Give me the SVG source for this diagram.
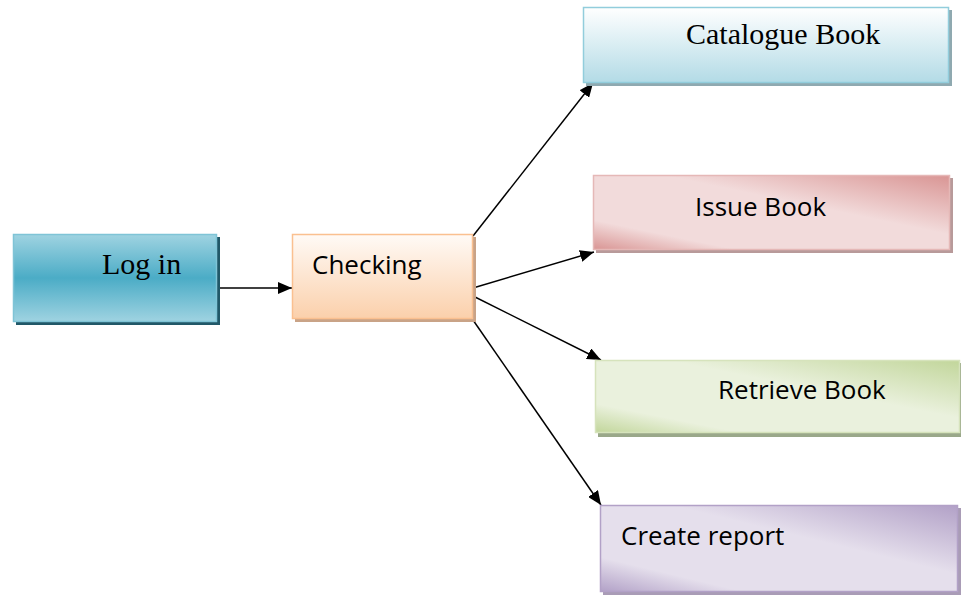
<svg xmlns="http://www.w3.org/2000/svg" width="961" height="595" viewBox="0 0 961 595">
<defs>
<style>
.serif{font-family:"Liberation Serif","Times New Roman",serif;font-size:30px;fill:#000}
.sans{font-family:"Open Sans","Liberation Sans",sans-serif;font-size:26px;fill:#000}
.conn{stroke:#000;stroke-width:1.5;fill:none;marker-end:url(#ah)}
</style>
<marker id="ah" markerWidth="14" markerHeight="12" refX="14" refY="6" orient="auto" markerUnits="userSpaceOnUse" viewBox="0 0 14 12">
<path d="M0,0 L14,6 L0,12 z" fill="#000"/>
</marker>
<linearGradient id="gLog" x1="0" y1="0" x2="0" y2="1">
<stop offset="0" stop-color="#9fd3e1"/><stop offset="0.5" stop-color="#4bacc6"/><stop offset="1" stop-color="#9fd3e1"/>
</linearGradient>
<linearGradient id="gChk" x1="0" y1="0" x2="0" y2="1">
<stop offset="0" stop-color="#fffaf6"/><stop offset="1" stop-color="#fbd0ab"/>
</linearGradient>
<linearGradient id="gCat" x1="0" y1="0" x2="0" y2="1">
<stop offset="0" stop-color="#ffffff"/><stop offset="1" stop-color="#b3dbe6"/>
</linearGradient>
<linearGradient id="gIss" x1="0" y1="1" x2="1" y2="0">
<stop offset="0" stop-color="#d99594"/><stop offset="0.2" stop-color="#f2dbdb"/><stop offset="0.6" stop-color="#f2dbdb"/><stop offset="1" stop-color="#d99594"/>
</linearGradient>
<linearGradient id="gRet" x1="0" y1="1" x2="1" y2="0">
<stop offset="0" stop-color="#c2d69b"/><stop offset="0.2" stop-color="#eaf1dd"/><stop offset="0.6" stop-color="#eaf1dd"/><stop offset="1" stop-color="#c2d69b"/>
</linearGradient>
<linearGradient id="gCre" x1="0" y1="1" x2="1" y2="0">
<stop offset="0" stop-color="#b2a1c7"/><stop offset="0.2" stop-color="#e5dfec"/><stop offset="0.6" stop-color="#e5dfec"/><stop offset="1" stop-color="#b2a1c7"/>
</linearGradient>
</defs>
<rect width="961" height="595" fill="#fff"/>
<g id="connectors">
<line class="conn" x1="217" y1="288" x2="292" y2="288"/>
<line class="conn" x1="473" y1="236" x2="593" y2="83"/>
<line class="conn" x1="473" y1="288" x2="594" y2="252"/>
<line class="conn" x1="473" y1="296" x2="601" y2="360"/>
<line class="conn" x1="473" y1="320" x2="601" y2="505"/>
</g>
<g id="login">
<rect x="16" y="237" width="204" height="88" fill="#215868"/>
<rect x="13.5" y="234.5" width="203" height="87" fill="url(#gLog)" stroke="#7fc4d6" stroke-width="1.5"/>
<text class="serif" x="102" y="274">Log in</text>
</g>
<g id="checking">
<rect x="295" y="237" width="181" height="85" fill="#c9a387"/>
<rect x="292.5" y="234.5" width="180" height="84" fill="url(#gChk)" stroke="#fac090" stroke-width="1.5"/>
<text class="sans" x="312" y="274">Checking</text>
</g>
<g id="catalogue">
<rect x="586" y="10" width="366" height="76" fill="#8fa9b0"/>
<rect x="583.5" y="7.5" width="365" height="75" fill="url(#gCat)" stroke="#92cddc" stroke-width="1.5"/>
<text class="serif" x="686" y="44">Catalogue Book</text>
</g>
<g id="issue">
<rect x="596" y="178" width="357" height="75" fill="#b89a9a"/>
<rect x="593.5" y="175.5" width="356" height="74" fill="url(#gIss)" stroke="#e5b8b7" stroke-width="1.5"/>
<text class="sans" x="695" y="216">Issue Book</text>
</g>
<g id="retrieve">
<rect x="598" y="363" width="363" height="74" fill="#9aa88a"/>
<rect x="595.5" y="360.5" width="364" height="72" fill="url(#gRet)" stroke="#d6e3bc" stroke-width="1.5"/>
<text class="sans" x="718" y="399">Retrieve Book</text>
</g>
<g id="create">
<rect x="603" y="508" width="358" height="87" fill="#a99cb6"/>
<rect x="600.5" y="505.5" width="357" height="86" fill="url(#gCre)" stroke="#b2a1c7" stroke-width="1.5"/>
<text class="sans" x="621" y="545">Create report</text>
</g>
</svg>
